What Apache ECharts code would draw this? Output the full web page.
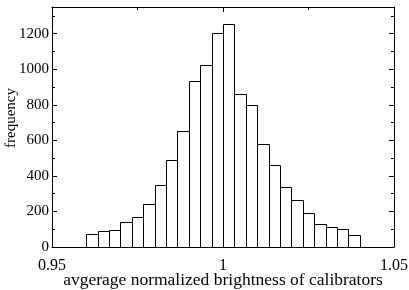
<!DOCTYPE html>
<html>
<head>
<meta charset="utf-8">
<script src="https://cdn.jsdelivr.net/npm/echarts@6/dist/echarts.min.js"></script>
<style>html,body{margin:0;padding:0;background:#fff}#c{width:409px;height:290px}</style>
</head>
<body>
<div id="c"></div>
<script>
// Histogram bins: left and right edges of each bin
var binLeft  = [0.96, 0.96333, 0.96667, 0.97, 0.97333, 0.97667, 0.98, 0.98333, 0.98667, 0.99, 0.99333, 0.99667,
                1.0, 1.00333, 1.00667, 1.01, 1.01333, 1.01667, 1.02, 1.02333, 1.02667, 1.03, 1.03333, 1.03667];
var binRight = [0.96333, 0.96667, 0.97, 0.97333, 0.97667, 0.98, 0.98333, 0.98667, 0.99, 0.99333, 0.99667, 1.0,
                1.00333, 1.00667, 1.01, 1.01333, 1.01667, 1.02, 1.02333, 1.02667, 1.03, 1.03333, 1.03667, 1.04];
var frequency = [73, 92, 97, 142, 170, 243, 346, 487, 650, 935, 1023, 1203,
                 1257, 863, 798, 581, 459, 337, 266, 191, 129, 112, 101, 69];
var xTickLabels = ['0.95', '1', '1.05'];
var yTickLabels = ['0', '200', '400', '600', '800', '1000', '1200'];

var data = binLeft.map(function (l, i) { return [l, binRight[i], frequency[i]]; });
var FONT = '"Liberation Serif", "Times New Roman", serif';

function xFmt(v) {
  var s = xTickLabels.filter(function (t) { return Math.abs(parseFloat(t) - v) < 1e-6; });
  return s.length ? s[0] : '';
}
function yFmt(v) {
  var s = yTickLabels.filter(function (t) { return Math.abs(parseFloat(t) - v) < 1e-6; });
  return s.length ? s[0] : '';
}

var chart = echarts.init(document.getElementById('c'), null, {renderer: 'canvas'});
var axisLine = {show: true, onZero: false, lineStyle: {color: '#000', width: 1}};
chart.setOption({
  animation: false,
  backgroundColor: '#fff',
  grid: {left: 52, right: 15, top: 7, bottom: 43, containLabel: false, outerBoundsMode: 'none'},
  xAxis: [{
    type: 'value', min: 0.95, max: 1.05, interval: 0.05,
    axisLine: axisLine,
    axisTick: {show: true, inside: true, length: 5, lineStyle: {color: '#000'}},
    minorTick: {show: true, splitNumber: 2, length: 3, lineStyle: {color: '#000'}},
    splitLine: {show: false},
    axisLabel: {formatter: xFmt, fontFamily: FONT, fontSize: 16, color: '#000', margin: 11},
    name: 'avgerage normalized brightness of calibrators',
    nameLocation: 'middle', nameGap: 24, nameMoveOverlap: false,
    nameTextStyle: {fontFamily: FONT, fontSize: 17.5, color: '#000'}
  }, {
    type: 'value', position: 'top', min: 0.95, max: 1.05, interval: 0.05,
    axisLine: axisLine,
    axisTick: {show: true, inside: true, length: 5, lineStyle: {color: '#000'}},
    minorTick: {show: true, splitNumber: 2, length: 3, lineStyle: {color: '#000'}},
    splitLine: {show: false}, axisLabel: {show: false}
  }],
  yAxis: [{
    type: 'value', min: 0, max: 1350, interval: 200,
    axisLine: axisLine,
    axisTick: {show: true, inside: true, length: 5, lineStyle: {color: '#000'}},
    minorTick: {show: true, splitNumber: 2, length: 3, lineStyle: {color: '#000'}},
    splitLine: {show: false},
    axisLabel: {formatter: yFmt, fontFamily: FONT, fontSize: 15, color: '#000', margin: 3},
    name: 'frequency', nameLocation: 'middle', nameGap: 33, nameRotate: 90, nameMoveOverlap: false,
    nameTextStyle: {fontFamily: FONT, fontSize: 15, color: '#000', padding: [0, 0, 0, 18]}
  }, {
    type: 'value', position: 'right', min: 0, max: 1350, interval: 200,
    axisLine: axisLine,
    axisTick: {show: true, inside: true, length: 5, lineStyle: {color: '#000'}},
    minorTick: {show: true, splitNumber: 2, length: 3, lineStyle: {color: '#000'}},
    splitLine: {show: false}, axisLabel: {show: false}
  }],
  series: [{
    type: 'custom',
    xAxisIndex: 0, yAxisIndex: 0,
    data: data,
    encode: {x: [0, 1], y: 2},
    renderItem: function (params, api) {
      var p0 = api.coord([api.value(0), 0]);
      var p1 = api.coord([api.value(1), api.value(2)]);
      return {
        type: 'rect',
        shape: {x: Math.round(p0[0]) + 0.5, y: Math.round(p1[1]) + 0.5,
                width: Math.round(p1[0]) - Math.round(p0[0]), height: Math.round(p0[1]) - Math.round(p1[1])},
        style: {fill: '#fff', stroke: '#000', lineWidth: 1}
      };
    }
  }]
});
</script>
</body>
</html>
